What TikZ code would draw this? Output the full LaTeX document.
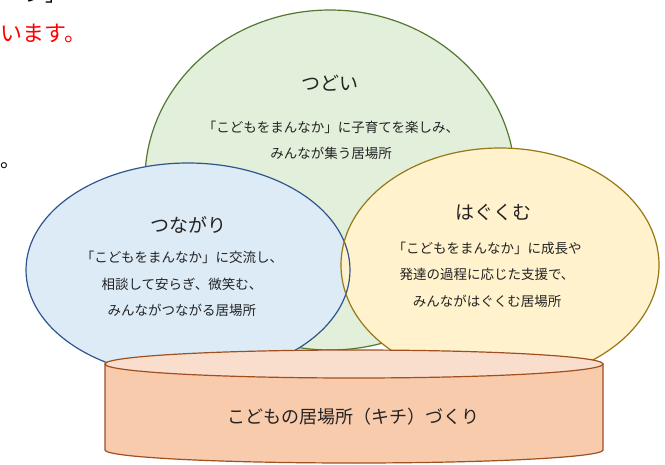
\documentclass[tikz,border=0pt]{standalone}
\usepackage{fontspec}
\newfontfamily\jp{Noto Sans CJK JP}
\definecolor{gfill}{RGB}{226,239,218}
\definecolor{gline}{RGB}{84,120,50}
\definecolor{bfill}{RGB}{221,235,247}
\definecolor{bline}{RGB}{47,85,140}
\definecolor{yfill}{RGB}{255,242,204}
\definecolor{yline}{RGB}{150,120,20}
\definecolor{cfill}{RGB}{248,203,173}
\definecolor{ctop}{RGB}{250,222,205}
\definecolor{cline}{RGB}{160,80,30}
\definecolor{txt}{RGB}{35,35,35}
\begin{document}
\begin{tikzpicture}[x=1pt,y=-1pt,
  title/.style={font=\jp\fontsize{19}{22}\selectfont, text=txt, inner sep=0},
  body/.style={font=\jp\fontsize{13.5}{26.5}\selectfont, text=txt, align=center, inner sep=0},
  border/.style={line width=1.2pt}]
\useasboundingbox (0,0) rectangle (665,464);
\clip (0,0) rectangle (665,464);
\fill[white] (0,0) rectangle (665,464);
% top-left partial texts
\node[anchor=base east, inner sep=0, font=\jp\fontsize{20}{24}\selectfont] (toptext) at (66,1) {ジ」};
\node[anchor=base west, inner sep=0, text=red, font=\jp\fontsize{22}{26}\selectfont] (redtext) at (0,41) {います。};
\node[anchor=base west, inner sep=0, font=\jp\fontsize{20}{24}\selectfont] (dot) at (0,167) {。};
% green ellipse
\draw[border, draw=gline, fill=gfill] (330,180) ellipse [x radius=185pt, y radius=170pt];
% blue and yellow fills
\fill[bfill] (188,270) ellipse [x radius=162pt, y radius=107pt];
\fill[yfill] (500,265) ellipse [x radius=159pt, y radius=117pt];
\draw[border, draw=bline] (188,270) ellipse [x radius=162pt, y radius=107pt];
\draw[border, draw=yline] (500,265) ellipse [x radius=159pt, y radius=117pt];
% cylinder
\coordinate (cTL) at (105,364);
\coordinate (cTR) at (603,364);
\coordinate (cBL) at (105,450);
\coordinate (cBR) at (603,450);
\draw[border, draw=cline, fill=cfill] (cTL) -- (cBL) arc[start angle=180, end angle=360, x radius=249pt, y radius=13pt] -- (cTR) -- cycle;
\draw[border, draw=cline, fill=ctop] (354,364) ellipse [x radius=249pt, y radius=14pt];
% texts
\node[title] (t1) at (330,83) {つどい};
\node[body] (b1) at (331,140.5) {「こどもをまんなか」に子育てを楽しみ、\\みんなが集う居場所};
\node[title] (t2) at (188,225) {つながり};
\node[body] (b2) at (182,284) {「こどもをまんなか」に交流し、\\相談して安らぎ、微笑む、\\みんながつながる居場所};
\node[title] (t3) at (493,212) {はぐくむ};
\node[body] (b3) at (487,274.5) {「こどもをまんなか」に成長や\\発達の過程に応じた支援で、\\みんながはぐくむ居場所};
\node[font=\jp\fontsize{18}{22}\selectfont, text=txt, inner sep=0] (c) at (353,417) {こどもの居場所（キチ）づくり};
\end{tikzpicture}
\end{document}
